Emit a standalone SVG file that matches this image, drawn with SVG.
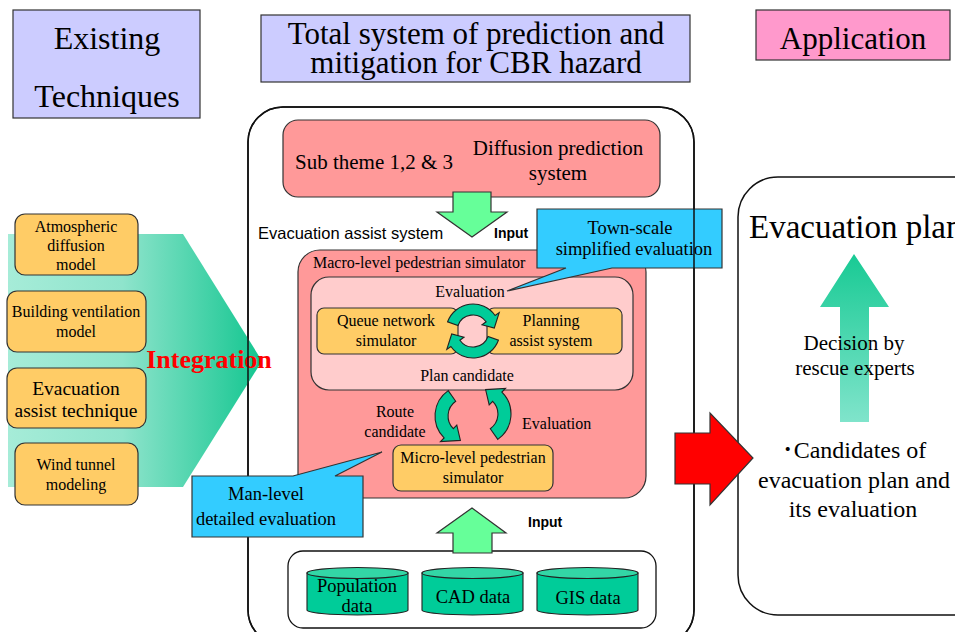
<svg xmlns="http://www.w3.org/2000/svg" width="955" height="632" viewBox="0 0 955 632">
<style>
text{font-family:"Liberation Serif","Times New Roman","Noto Sans CJK JP",serif;fill:#000}
.sans{font-family:"Liberation Sans",Arial,sans-serif}
.c{text-anchor:middle}
.hdr{stroke:#333;stroke-width:1.2}
.orange{fill:#ffcc66;stroke:#333;stroke-width:1.2}
.salmon{fill:#ff9999;stroke:#333;stroke-width:1.2}
.pink{fill:#ffcccc;stroke:#333;stroke-width:1.2}
.callout{fill:#33ccff;stroke:#333;stroke-width:1.2}
.cyc{fill:#00cc99;stroke:#222;stroke-width:1.1}
.cylb{fill:#00cc99;stroke:#222;stroke-width:1.1}
.cylt{fill:#33d6a6;stroke:#222;stroke-width:1.1}
.garrow{fill:#66ff99;stroke:#333;stroke-width:1.2}
.frame{fill:#fff;stroke:#111;stroke-width:1.5}
</style>
<defs>
<linearGradient id="gLeft" x1="0" y1="0" x2="1" y2="0">
<stop offset="0" stop-color="#a6ecd8"/>
<stop offset="0.45" stop-color="#8fe4cc"/>
<stop offset="1" stop-color="#13c690"/>
</linearGradient>
<linearGradient id="gUp" x1="0" y1="0" x2="0" y2="1">
<stop offset="0" stop-color="#18ca94"/>
<stop offset="1" stop-color="#80e4cb"/>
</linearGradient>
</defs>

<!-- headers -->
<g id="hdr-existing">
<rect x="13" y="10" width="187" height="108" fill="#ccccff" class="hdr"/>
<text x="107" y="49" class="c" font-size="32">Existing</text>
<text x="107" y="107" class="c" font-size="32">Techniques</text>
</g>
<g id="hdr-total">
<rect x="261" y="15" width="429" height="67" fill="#ccccff" class="hdr"/>
<text x="476" y="44" class="c" font-size="31">Total system of prediction and</text>
<text x="476" y="73" class="c" font-size="31">mitigation for CBR hazard</text>
</g>
<g id="hdr-application">
<rect x="756" y="10" width="194" height="50" fill="#ff99cc" class="hdr"/>
<text x="853" y="49" class="c" font-size="31">Application</text>
</g>

<!-- central frame -->
<g id="total-system">
<rect x="248" y="107" width="446" height="538" rx="35" class="frame"/>
<text x="258" y="239" class="sans" font-size="16.5">Evacuation assist system</text>
</g>

<!-- left: integration arrow with existing techniques -->
<g id="integration">
<polygon points="8,234 183,234 262,361 183,487 8,487" fill="url(#gLeft)"/>
</g>
<g id="tech-atmospheric">
<rect x="15" y="214" width="123" height="61" rx="10" class="orange"/>
<text x="76" y="232" class="c" font-size="16">Atmospheric</text>
<text x="76" y="251" class="c" font-size="16">diffusion</text>
<text x="76" y="270" class="c" font-size="16">model</text>
</g>
<g id="tech-building">
<rect x="7" y="291" width="139" height="61" rx="10" class="orange"/>
<text x="76" y="317" class="c" font-size="16">Building ventilation</text>
<text x="76" y="337" class="c" font-size="16">model</text>
</g>
<g id="tech-evacuation">
<rect x="7" y="368" width="139" height="60" rx="10" class="orange"/>
<text x="76" y="395" class="c" font-size="19.5">Evacuation</text>
<text x="76" y="417" class="c" font-size="19.5">assist technique</text>
</g>
<g id="tech-wind">
<rect x="15" y="443" width="123" height="62" rx="10" class="orange"/>
<text x="76" y="470" class="c" font-size="16">Wind tunnel</text>
<text x="76" y="490" class="c" font-size="16">modeling</text>
</g>
<text x="209" y="368" class="c" font-size="26" font-weight="bold" style="fill:#ff0000">Integration</text>

<g id="diffusion">
<rect x="283" y="120" width="377" height="77" rx="15" class="salmon"/>
<text x="295" y="169" font-size="21">Sub theme 1,2 &amp; 3</text>
<text x="558" y="155" class="c" font-size="21">Diffusion prediction</text>
<text x="558" y="180" class="c" font-size="21">system</text>
</g>

<g id="macro">
<rect x="298" y="250" width="348" height="248" rx="22" class="salmon"/>
<text x="313" y="268" font-size="16">Macro-level pedestrian simulator</text>
</g>
<g id="macro-inner">
<rect x="311" y="277" width="322" height="113" rx="18" class="pink"/>
<text x="470" y="297" class="c" font-size="16">Evaluation</text>
<text x="467" y="381" class="c" font-size="16">Plan candidate</text>
</g>
<g id="queue">
<rect x="317" y="308" width="141" height="46" rx="7" class="orange"/>
<text x="386" y="326" class="c" font-size="16">Queue network</text>
<text x="386" y="346" class="c" font-size="16">simulator</text>
</g>
<g id="planning">
<rect x="487" y="308" width="135" height="46" rx="7" class="orange"/>
<text x="551" y="326" class="c" font-size="16">Planning</text>
<text x="551" y="346" class="c" font-size="16">assist system</text>
</g>
<g id="micro">
<rect x="393" y="445" width="160" height="46" rx="8" class="orange"/>
<text x="473" y="463" class="c" font-size="16">Micro-level pedestrian</text>
<text x="473" y="483" class="c" font-size="16">simulator</text>
</g>
<text x="395" y="417" class="c" font-size="16">Route</text>
<text x="395" y="437" class="c" font-size="16">candidate</text>
<text x="522" y="429" font-size="16">Evaluation</text>

<!-- callout: town-scale -->
<g id="callout-town">
<path d="M537,209 H722 V268 H612 L507,291 L566,268 H537 Z" class="callout"/>
<text x="630" y="234" class="c" font-size="18.5">Town-scale</text>
<text x="634" y="255" class="c" font-size="18.5">simplified evaluation</text>
</g>
<rect x="248" y="107" width="446" height="538" rx="35" fill="none" stroke="#111" stroke-width="1.5"/>

<!-- callout: man-level -->
<g id="callout-man">
<path d="M192,476 H293 L382,452 L335,476 H363 V537 H192 Z" class="callout"/>
<text x="266" y="500" class="c" font-size="18.5">Man-level</text>
<text x="266" y="525" class="c" font-size="18.5">detailed evaluation</text>
</g>

<!-- data -->
<g id="data">
<rect x="288" y="551" width="368" height="77" rx="15" fill="#fff" stroke="#111" stroke-width="1.3"/>
</g>
<g id="cyl-population">
<path d="M307,573 V610 A50.5,5 0 0 0 408,610 V573 Z" class="cylb"/>
<ellipse cx="357.5" cy="573" rx="50.5" ry="5.5" class="cylt"/>
<text x="357" y="592" class="c" font-size="18.5">Population</text>
<text x="357" y="612" class="c" font-size="18.5">data</text>
</g>
<g id="cyl-cad">
<path d="M422,573 V610 A50.5,5 0 0 0 523,610 V573 Z" class="cylb"/>
<ellipse cx="472.5" cy="573" rx="50.5" ry="5.5" class="cylt"/>
<text x="473" y="603" class="c" font-size="18.5">CAD data</text>
</g>
<g id="cyl-gis">
<path d="M537,573 V610 A50.5,5 0 0 0 638,610 V573 Z" class="cylb"/>
<ellipse cx="587.5" cy="573" rx="50.5" ry="5.5" class="cylt"/>
<text x="588" y="604" class="c" font-size="18.5">GIS data</text>
</g>

<!-- right: application -->
<g id="evac-plan">
<rect x="738" y="177" width="260" height="438" rx="40" fill="#fff" stroke="#111" stroke-width="1.5"/>
<text x="749" y="238" font-size="33">Evacuation plan</text>
<text x="854" y="458" class="c" font-size="24">･Candidates of</text>
<text x="854" y="488" class="c" font-size="24">evacuation plan and</text>
<text x="853" y="517" class="c" font-size="24">its evaluation</text>
</g>

<!-- connectors -->
<g id="connectors">
<polygon points="453,192 491,192 491,212 507,212 472,237 437,212 453,212" class="garrow"/>
<text x="494" y="238" class="sans" font-size="14" font-weight="bold">Input</text>
<polygon points="453,553 492,553 492,533 506,533 472,508 437,533 453,533" class="garrow"/>
<text x="528" y="527" class="sans" font-size="14" font-weight="bold">Input</text>

<path d="M447.6,321.8 A27,27 0 0 1 495.1,315.5 L499.2,312.6 L494.3,328 L482,324.7 L486.1,321.8 A16,16 0 0 0 458,325.5 Z" class="cyc"/>
<path d="M447.6,321.8 A27,27 0 0 1 495.1,315.5 L499.2,312.6 L494.3,328 L482,324.7 L486.1,321.8 A16,16 0 0 0 458,325.5 Z" class="cyc" transform="rotate(180 473 331)"/>
<path d="M448.2,390.6 A31,31 0 0 0 444.1,437.9 L440.5,441.5 L460.4,440.4 L456.8,425.2 L453.3,428.7 A18,18 0 0 1 455.7,401.3 Z" class="cyc"/>
<path d="M448.2,390.6 A31,31 0 0 0 444.1,437.9 L440.5,441.5 L460.4,440.4 L456.8,425.2 L453.3,428.7 A18,18 0 0 1 455.7,401.3 Z" class="cyc" transform="rotate(180 473 415)"/>

<polygon points="840,422 869,422 869,307 889,307 854,254 820,307 840,307" fill="url(#gUp)"/>
<text x="854" y="350" class="c" font-size="21">Decision by</text>
<text x="855" y="375" class="c" font-size="21">rescue experts</text>

<polygon points="675,433 710,433 710,413 753,458 710,505 710,484 675,484" fill="#ff0000" stroke="#333" stroke-width="1.2"/>
</g>
</svg>
